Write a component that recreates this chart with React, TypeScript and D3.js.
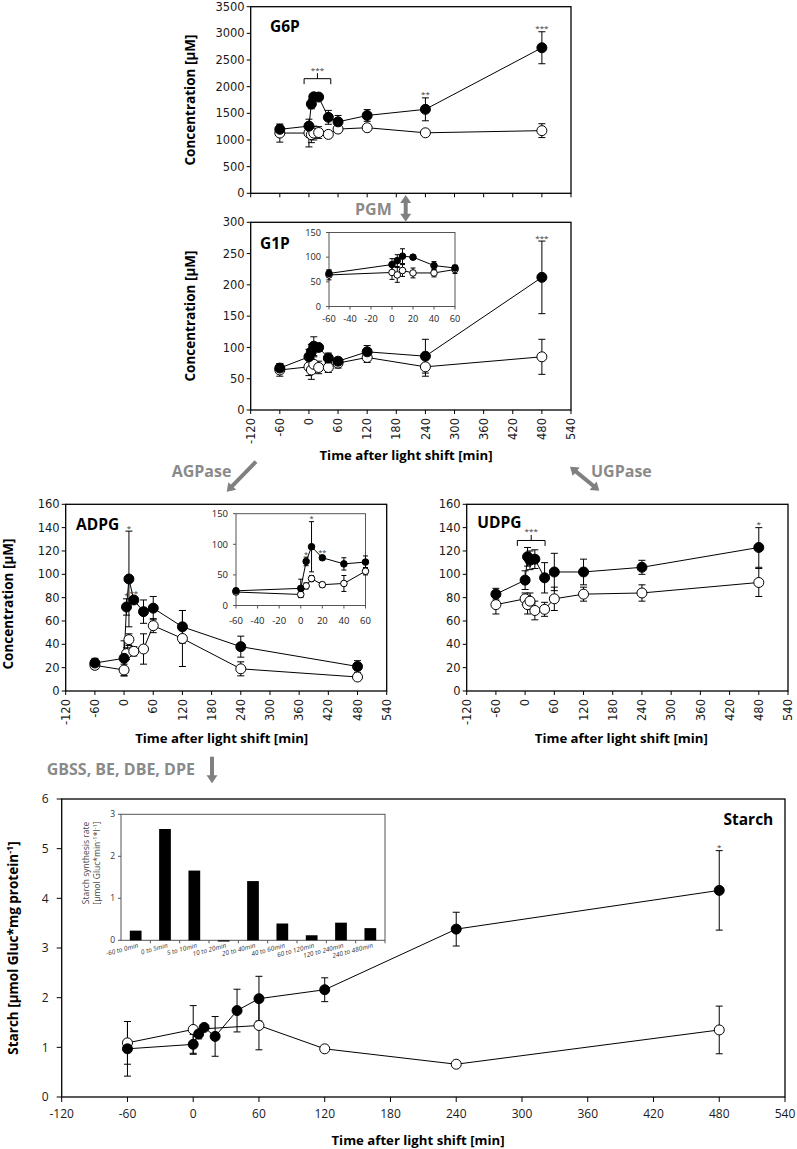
import React from 'react';
import * as d3 from 'd3';

// ---------------- DATA ----------------
const timePoints = [-60, 0, 5, 10, 20, 40, 60, 120, 240, 480];
const mainXTicks = [-120, -60, 0, 60, 120, 180, 240, 300, 360, 420, 480, 540];
const insetXTicks = [-60, -40, -20, 0, 20, 40, 60];

const g6pShift = [1200, 1260, 1675, 1810, 1805, 1425, 1340, 1460, 1575, 2730];
const g6pShiftErr = [80, 60, 90, 60, 60, 130, 120, 110, 215, 300];
const g6pCtrl = [1130, 1130, 1100, 1130, 1140, 1105, 1205, 1230, 1135, 1175];
const g6pCtrlErr = [170, 260, 150, 130, 110, 60, 60, 60, 40, 130];
const g6pYTicks = [0, 500, 1000, 1500, 2000, 2500, 3000, 3500];

const g1pShift = [67, 85, 93, 102, 100, 83, 78, 93, 86, 212];
const g1pShiftErr = [7, 12, 12, 15, 4, 8, 6, 10, 27, 58];
const g1pCtrl = [64, 69, 64, 73, 68, 68, 75, 84, 69, 85];
const g1pCtrlErr = [10, 14, 15, 12, 10, 8, 8, 8, 15, 28];
const g1pYTicks = [0, 50, 100, 150, 200, 250, 300];
const g1pInsetYTicks = [0, 50, 100, 150];

const adpgShift = [24, 28, 72, 96, 78, 68, 71, 55, 38, 21];
const adpgShiftErr = [4, 15, 7, 41, 3, 10, 10, 14, 9, 5];
const adpgCtrl = [22, 18, 32, 44, 34, 36, 56, 45, 19, 12];
const adpgCtrlErr = [3, 5, 5, 5, 4, 13, 6, 24, 6, 3];
const adpgInsetYTicks = [0, 50, 100, 150];

const udpgShift = [83, 95, 115, 112, 113, 97, 102, 102, 106, 123];
const udpgShiftErr = [5, 8, 8, 8, 8, 13, 16, 11, 6, 17];
const udpgCtrl = [74, 79, 74, 77, 69, 70, 79, 83, 84, 93];
const udpgCtrlErr = [8, 5, 8, 7, 8, 6, 10, 6, 7, 12];
const nucYTicks = [0, 20, 40, 60, 80, 100, 120, 140, 160];

const starchShiftTimes = [-60, 0, 5, 10, 20, 40, 60, 120, 240, 480];
const starchShift = [0.97, 1.06, 1.27, 1.4, 1.22, 1.74, 1.98, 2.16, 3.38, 4.16];
const starchShiftErr = [0.55, 0.2, 0.1, 0.06, 0.4, 0.43, 0.45, 0.24, 0.34, 0.8];
const starchCtrlTimes = [-60, 0, 60, 120, 240, 480];
const starchCtrl = [1.09, 1.36, 1.44, 0.97, 0.66, 1.35];
const starchCtrlErr = [0.43, 0.48, 0.49, 0, 0, 0.48];
const starchYTicks = [0, 1, 2, 3, 4, 5, 6];

const rateCats = ['-60 to 0min', '0 to 5min', '5 to 10min', '10 to 20min', '20 to 40min', '40 to 60min', '60 to 120min', '120 to 240min', '240 to 480min'];
const rateVals = [0.23, 2.65, 1.66, -0.03, 1.41, 0.4, 0.12, 0.42, 0.29];
const rateYTicks = [0, 1, 2, 3];

const g6pStars = [{ t: 240, label: '**' }, { t: 480, label: '***' }];
const g1pStars = [{ t: 480, label: '***' }];
const adpgStars = [{ t: 5, label: '*' }, { t: 10, label: '*' }, { t: 20, label: '**' }];
const udpgStars = [{ t: 480, label: '*' }];
const starchStars = [{ t: 480, label: '*' }];
const g6pBracket = { t0: -10, t1: 45, level: 2150, label: '***' };
const udpgBracket = { t0: -16, t1: 41, level: 129, label: '***' };

// ---------------- COMPONENTS ----------------
type Series = { t: number[]; v: number[]; e: number[]; filled: boolean };
type Star = { t: number; label: string };
type Bracket = { t0: number; t1: number; level: number; label: string };
type PanelCfg = {
  l: number; r: number; top: number; bottom: number;
  xDomain: [number, number]; xTicks: number[];
  yDomain: [number, number]; yTicks: number[];
  series: Series[];
  rad: number; cap: number; tickLen: number;
  xLabelMode: 'none' | 'rot' | 'flat';
  xLabelOffset: number; yLabelOffset: number;
  font: string; fontSize: number;
  frameColor: string; frameW: number;
  bg?: string;
  stars?: Star[]; starFont?: number;
  bracket?: Bracket;
};

const TICK_COLOR = '#1a1a1a';

function Panel({ c }: { c: PanelCfg }) {
  const x = d3.scaleLinear().domain(c.xDomain).range([c.l, c.r]);
  const y = d3.scaleLinear().domain(c.yDomain).range([c.bottom, c.top]);
  const inDom = (t: number) => t >= c.xDomain[0] && t <= c.xDomain[1];
  const pts = (s: Series) => s.t.map((t, i) => ({ t, v: s.v[i], e: s.e[i] })).filter(p => inDom(p.t));
  const line = d3.line<{ t: number; v: number }>().x(p => x(p.t)).y(p => y(p.v));
  const ordered = [...c.series.filter(s => !s.filled), ...c.series.filter(s => s.filled)];
  const shift = c.series.find(s => s.filled)!;
  const sf = c.starFont ?? 8;
  return (
    <g>
      <rect x={c.l} y={c.top} width={c.r - c.l} height={c.bottom - c.top} fill={c.bg ?? 'none'} stroke={c.frameColor} strokeWidth={c.frameW} />
      {c.yTicks.map(v => (
        <g key={'y' + v}>
          <line x1={c.l - c.tickLen} x2={c.l} y1={y(v)} y2={y(v)} stroke={c.frameColor} strokeWidth={1} />
          <text x={c.l - c.yLabelOffset} y={y(v)} dy="0.36em" textAnchor="end" fontFamily={c.font} fontSize={c.fontSize} fill={TICK_COLOR}>{v}</text>
        </g>
      ))}
      {c.xTicks.map(t => (
        <g key={'x' + t}>
          <line x1={x(t)} x2={x(t)} y1={c.bottom} y2={c.bottom + c.tickLen} stroke={c.frameColor} strokeWidth={1} />
          {c.xLabelMode === 'rot' && (
            <text transform={`translate(${x(t)},${c.bottom + c.xLabelOffset}) rotate(-90)`} dy="0.36em" textAnchor="end" fontFamily={c.font} fontSize={c.fontSize} fill={TICK_COLOR}>{t}</text>
          )}
          {c.xLabelMode === 'flat' && (
            <text x={x(t)} y={c.bottom + c.xLabelOffset} dy="0.36em" textAnchor="middle" fontFamily={c.font} fontSize={c.fontSize} fill={TICK_COLOR}>{t}</text>
          )}
        </g>
      ))}
      {c.series.map((s, i) => (
        <path key={'l' + i} d={line(pts(s)) ?? ''} fill="none" stroke="#000" strokeWidth={1} />
      ))}
      {c.series.map((s, i) => pts(s).filter(p => p.e > 0).map((p, j) => {
        const cx = x(p.t), y1 = y(p.v + p.e), y0 = y(p.v - p.e), h = c.cap / 2;
        return (
          <path key={`e${i}-${j}`} d={`M${cx},${y0}V${y1}M${cx - h},${y1}H${cx + h}M${cx - h},${y0}H${cx + h}`} stroke="#000" strokeWidth={1} fill="none" />
        );
      }))}
      {ordered.map((s, i) => pts(s).map((p, j) => (
        <circle key={`m${i}-${j}`} cx={x(p.t)} cy={y(p.v)} r={c.rad} fill={s.filled ? '#000' : '#fff'} stroke="#000" strokeWidth={1} />
      )))}
      {(c.stars ?? []).map((st, i) => {
        const k = shift.t.indexOf(st.t);
        if (k < 0 || !inDom(st.t)) return null;
        return (
          <text key={'s' + i} x={x(st.t)} y={y(shift.v[k] + shift.e[k]) - 0.5} textAnchor="middle" fontFamily="'Open Sans', sans-serif" fontSize={sf} fill="#333">{st.label}</text>
        );
      })}
      {c.bracket && (() => {
        const b = c.bracket!;
        const yl = y(b.level), x0 = x(b.t0), x1 = x(b.t1), xm = (x0 + x1) / 2;
        return (
          <g>
            <path d={`M${x0},${yl + 5.5}V${yl}H${x1}V${yl + 5.5}M${xm},${yl}V${yl - 5.5}`} fill="none" stroke="#000" strokeWidth={1} />
            <text x={xm} y={yl - 6} textAnchor="middle" fontFamily="'Open Sans', sans-serif" fontSize={sf} fill="#333">{b.label}</text>
          </g>
        );
      })()}
    </g>
  );
}

function Arrow({ x1, y1, x2, y2, double }: { x1: number; y1: number; x2: number; y2: number; double?: boolean }) {
  const hl = 8, hw = 11, w = 4, col = '#808080';
  const dx = x2 - x1, dy = y2 - y1, len = Math.hypot(dx, dy);
  const ux = dx / len, uy = dy / len, px = -uy, py = ux;
  const head = (tx: number, ty: number, dx0: number, dy0: number) => {
    const bx = tx - dx0 * hl, by = ty - dy0 * hl;
    return `${tx},${ty} ${bx + px * hw / 2},${by + py * hw / 2} ${bx - px * hw / 2},${by - py * hw / 2}`;
  };
  const sx = double ? x1 + ux * (hl - 1) : x1, sy = double ? y1 + uy * (hl - 1) : y1;
  const ex = x2 - ux * (hl - 1), ey = y2 - uy * (hl - 1);
  return (
    <g>
      <line x1={sx} y1={sy} x2={ex} y2={ey} stroke={col} strokeWidth={w} />
      <polygon points={head(x2, y2, ux, uy)} fill={col} />
      {double && <polygon points={head(x1, y1, -ux, -uy)} fill={col} />}
    </g>
  );
}

function RateInset() {
  const l = 121, r = 385, top = 814.3, bottom = 940.3;
  const x = d3.scaleBand<string>().domain(rateCats).range([l, r]).paddingInner(0.6).paddingOuter(0.3);
  const y = d3.scaleLinear().domain([0, 3]).range([bottom, top]);
  const step = x.step();
  return (
    <g>
      <rect x={l} y={top} width={r - l} height={bottom - top} fill="#fff" stroke="#555" strokeWidth={1} />
      {rateYTicks.map(v => (
        <g key={v}>
          <line x1={l - 3} x2={l} y1={y(v)} y2={y(v)} stroke="#555" />
          <text x={l - 6} y={y(v)} dy="0.36em" textAnchor="end" fontFamily="'Open Sans', sans-serif" fontSize={8.5} fill="#333">{v}</text>
        </g>
      ))}
      {rateCats.map((c, i) => (
        <line key={'t' + i} x1={l + step * (i + 1)} x2={l + step * (i + 1)} y1={bottom} y2={bottom + 3} stroke="#555" />
      ))}
      {rateCats.map((c, i) => {
        const v = rateVals[i];
        return <rect key={'b' + i} x={x(c)!} width={x.bandwidth()} y={Math.min(y(v), y(0))} height={Math.abs(y(v) - y(0))} fill="#000" />;
      })}
      {rateCats.map((c, i) => (
        <text key={'c' + i} transform={`translate(${x(c)! + x.bandwidth() / 2 + 3},${bottom + 7}) rotate(-15)`} textAnchor="end" fontFamily="'Open Sans', sans-serif" fontStyle="italic" fontSize={6.5} fill="#333">{c}</text>
      ))}
      <text transform={`translate(86,863) rotate(-90)`} textAnchor="middle" dy="0.36em" fontFamily="'Open Sans', sans-serif" fontSize={8.5} fill="#444">Starch synthesis rate</text>
      <text transform={`translate(96.5,863) rotate(-90)`} textAnchor="middle" dy="0.36em" fontFamily="'Open Sans', sans-serif" fontSize={8.5} fill="#444">
        [µmol Gluc*min<tspan dy={-3} fontSize={6}>-1</tspan><tspan dy={3}>*l</tspan><tspan dy={-3} fontSize={6}>-1</tspan><tspan dy={3}>]</tspan>
      </text>
    </g>
  );
}

const TICK_FONT = "'DejaVu Sans', sans-serif";
const OS = "'Open Sans', sans-serif";

const base = {
  xDomain: [-120, 540] as [number, number], xTicks: mainXTicks,
  rad: 5, cap: 7, tickLen: 4, xLabelOffset: 8, yLabelOffset: 6,
  font: TICK_FONT, fontSize: 11.5, frameColor: '#000', frameW: 1.3,
};
const inset = {
  xDomain: [-60, 60] as [number, number], xTicks: insetXTicks,
  rad: 3.3, cap: 5, tickLen: 3, xLabelMode: 'flat' as const,
  font: OS, frameColor: '#555', frameW: 1, bg: '#fff', starFont: 7.5,
};

function mk(t: number[], v: number[], e: number[], filled: boolean): Series { return { t, v, e, filled }; }

export default function App() {
  const g6p: PanelCfg = {
    ...base, l: 250.7, r: 571, top: 6.7, bottom: 193.3, yDomain: [0, 3500], yTicks: g6pYTicks,
    series: [mk(timePoints, g6pCtrl, g6pCtrlErr, false), mk(timePoints, g6pShift, g6pShiftErr, true)],
    xLabelMode: 'none', stars: g6pStars, bracket: g6pBracket,
  };
  const g1p: PanelCfg = {
    ...base, l: 250.7, r: 571, top: 222.3, bottom: 410, yDomain: [0, 300], yTicks: g1pYTicks,
    series: [mk(timePoints, g1pCtrl, g1pCtrlErr, false), mk(timePoints, g1pShift, g1pShiftErr, true)],
    xLabelMode: 'rot', stars: g1pStars,
  };
  const g1pIn: PanelCfg = {
    ...inset, l: 329, r: 455, top: 232.5, bottom: 306.5, yDomain: [0, 150], yTicks: g1pInsetYTicks,
    series: [mk(timePoints, g1pCtrl, g1pCtrlErr, false), mk(timePoints, g1pShift, g1pShiftErr, true)],
    xLabelOffset: 12.5, yLabelOffset: 8, fontSize: 9.2,
  };
  const adpg: PanelCfg = {
    ...base, l: 65.7, r: 386.7, top: 504.3, bottom: 691, yDomain: [0, 160], yTicks: nucYTicks,
    series: [mk(timePoints, adpgCtrl, adpgCtrlErr, false), mk(timePoints, adpgShift, adpgShiftErr, true)],
    xLabelMode: 'rot', stars: adpgStars,
  };
  const adpgIn: PanelCfg = {
    ...inset, l: 236, r: 365.5, top: 513.7, bottom: 605.5, yDomain: [0, 150], yTicks: adpgInsetYTicks,
    series: [mk(timePoints, adpgCtrl, adpgCtrlErr, false), mk(timePoints, adpgShift, adpgShiftErr, true)],
    xLabelOffset: 15, yLabelOffset: 8, fontSize: 9.5, stars: adpgStars,
  };
  const udpg: PanelCfg = {
    ...base, l: 466.7, r: 788, top: 504.3, bottom: 691, yDomain: [0, 160], yTicks: nucYTicks,
    series: [mk(timePoints, udpgCtrl, udpgCtrlErr, false), mk(timePoints, udpgShift, udpgShiftErr, true)],
    xLabelMode: 'rot', stars: udpgStars, bracket: udpgBracket,
  };
  const starch: PanelCfg = {
    ...base, l: 61.7, r: 785, top: 799, bottom: 1097, yDomain: [0, 6], yTicks: starchYTicks,
    series: [mk(starchCtrlTimes, starchCtrl, starchCtrlErr, false), mk(starchShiftTimes, starchShift, starchShiftErr, true)],
    xLabelMode: 'flat', xLabelOffset: 17, yLabelOffset: 13, font: OS, fontSize: 12, tickLen: 5, stars: starchStars,
  };

  const titleStyle = { fontFamily: OS, fontWeight: 700 as const, fontSize: 15.5, fill: '#000' };
  const axisTitle = { fontFamily: OS, fontWeight: 700 as const, fontSize: 13.2, fill: '#000' };
  const grayLbl = { fontFamily: OS, fontWeight: 700 as const, fontSize: 16, fill: '#8a8a8a' };

  return (
    <svg width={797} height={1149} style={{ position: 'absolute', left: 0, top: 0, background: '#fff' }}>
      <rect width={797} height={1149} fill="#fff" />
      <Panel c={g6p} />
      <Panel c={g1p} />
      <Panel c={g1pIn} />
      <Panel c={adpg} />
      <Panel c={adpgIn} />
      <Panel c={udpg} />
      <Panel c={starch} />
      <RateInset />

      {/* panel titles */}
      <text x={270} y={32} {...titleStyle}>G6P</text>
      <text x={260} y={248.6} {...titleStyle}>G1P</text>
      <text x={76} y={530.3} {...titleStyle}>ADPG</text>
      <text x={477.3} y={528} {...titleStyle}>UDPG</text>
      <text x={773.3} y={824.6} textAnchor="end" {...titleStyle}>Starch</text>

      {/* axis titles */}
      <text transform="translate(190,100) rotate(-90)" textAnchor="middle" dy="0.36em" {...axisTitle} fontSize={13.5}>Concentration [µM]</text>
      <text transform="translate(190,316) rotate(-90)" textAnchor="middle" dy="0.36em" {...axisTitle} fontSize={13.5}>Concentration [µM]</text>
      <text transform="translate(8,604) rotate(-90)" textAnchor="middle" dy="0.36em" {...axisTitle} fontSize={13.5}>Concentration [µM]</text>
      <text transform="translate(13,948) rotate(-90)" textAnchor="middle" dy="0.36em" {...axisTitle} fontSize={13.5}>
        Starch [µmol Gluc*mg protein<tspan dy={-5} fontSize={9}>-1</tspan><tspan dy={5}>]</tspan>
      </text>
      <text x={406} y={455} dy="0.36em" textAnchor="middle" {...axisTitle}>Time after light shift [min]</text>
      <text x={221.7} y={738} dy="0.36em" textAnchor="middle" {...axisTitle}>Time after light shift [min]</text>
      <text x={621.3} y={738} dy="0.36em" textAnchor="middle" {...axisTitle}>Time after light shift [min]</text>
      <text x={418} y={1140} dy="0.36em" textAnchor="middle" {...axisTitle}>Time after light shift [min]</text>

      {/* enzyme labels & arrows */}
      <text x={355} y={215} {...grayLbl}>PGM</text>
      <Arrow x1={405.7} y1={195} x2={405.7} y2={221.7} double />
      <text x={171.7} y={477.4} {...grayLbl}>AGPase</text>
      <Arrow x1={256} y1={461.7} x2={226.7} y2={491.7} />
      <text x={591} y={477.4} {...grayLbl}>UGPase</text>
      <Arrow x1={570} y1={466.7} x2={599.3} y2={490.7} double />
      <text x={46.7} y={775} {...grayLbl}>GBSS, BE, DBE, DPE</text>
      <Arrow x1={212} y1={756.7} x2={212} y2={783.3} />
    </svg>
  );
}
